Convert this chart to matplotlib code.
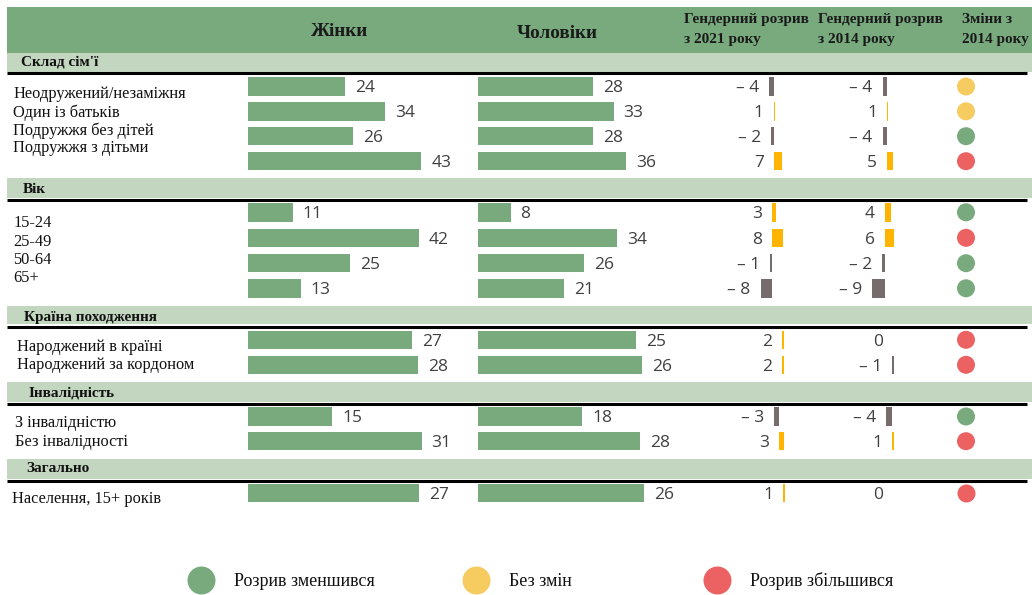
import matplotlib.pyplot as plt
from matplotlib.patches import Rectangle

W, H = 1032, 595

# ---- дані ----
sections = ["Склад сім'ї", "Вік", "Країна походження", "Інвалідність", "Загально"]
row_labels = [
    ["Неодружений/незаміжня", "Один із батьків", "Подружжя без дітей", "Подружжя з дітьми"],
    ["15-24", "25-49", "50-64", "65+"],
    ["Народжений в країні", "Народжений за кордоном"],
    ["З інвалідністю", "Без інвалідності"],
    ["Населення, 15+ років"],
]
women = [[24, 34, 26, 43], [11, 42, 25, 13], [27, 28], [15, 31], [27]]
men = [[28, 33, 28, 36], [8, 34, 26, 21], [25, 26], [18, 28], [26]]
gap_2021 = [[-4, 1, -2, 7], [3, 8, -1, -8], [2, 2], [-3, 3], [1]]
gap_2014 = [[-4, 1, -4, 5], [4, 6, -2, -9], [0, -1], [-4, 1], [0]]
change = [["same", "same", "down", "up"],
          ["down", "up", "down", "down"],
          ["up", "up"],
          ["down", "up"],
          ["up"]]

col_headers = ["Жінки", "Чоловіки", "Гендерний розрив\nз 2021 року",
               "Гендерний розрив\nз 2014 року", "Зміни з\n2014 року"]
legend_keys = ["down", "same", "up"]
legend_labels = ["Розрив зменшився", "Без змін", "Розрив збільшився"]

# ---- оформлення ----
GREEN = '#78AA7E'
LIGHT = '#C3D6C0'
ORANGE = '#FFB400'
GREY = '#766C6C'
TXT = '#404040'
status_colors = {'down': '#78AA7E', 'same': '#F6CB5F', 'up': '#EC6262'}
SERIF = ['Liberation Serif', 'DejaVu Serif']
SANS = ['Open Sans', 'DejaVu Sans']

# розмітка в пікселях (y вниз)
band_y = [(52.7, 71.5), (178.3, 198.0), (306.0, 324.0), (382.0, 402.0), (458.5, 478.5)]
rule_y = [73.3, 200.0, 326.5, 404.0, 480.5]
title_pos = [(20.7, 65.7), (22.7, 193.3), (24.0, 320.7), (28.3, 396.7), (26.0, 472.3)]
row_y = [[86.5, 111.3, 136.2, 161.2], [212.3, 237.8, 263.2, 288.3],
         [339.8, 364.8], [416.5, 441.2], [492.8]]
label_x = [13.3, 13.3, 17.3, 15.0, 11.7]
label_base = [[97.7, 116.7, 135.0, 151.7], [227.3, 245.7, 264.0, 281.7],
              [351.0, 369.3], [426.7, 445.7], [502.7]]
BAR_H = 18.5

# масштаб (пікселів на одиницю) для кожного блоку
women_ppu = [4.03, 4.07, 6.07, 5.6, 6.33]
men_ppu = [4.12, 4.1, 6.33, 5.8, 6.4]
gap21_zero = [773.7, 771.8, 782.3, 779.0, 783.3]
gap21_ppu = [1.15, 1.4, 0.6, 1.6, 1.7]
gap14_zero = [887.0, 885.0, 893.5, 892.2, 893.0]
gap14_ppu = [1.1, 1.45, 1.6, 1.5, 1.5]


def column_axes(fig, left, width):
    a = fig.add_axes([left / W, 0, width / W, 1])
    a.set_ylim(H, 0)
    a.set_facecolor('none')
    a.set_axis_off()
    return a


def fmt_gap(v):
    return f'\u2013 {abs(v)}' if v < 0 else f'{v}'


fig = plt.figure(figsize=(W / 100, H / 100), dpi=100)
ax = fig.add_axes([0, 0, 1, 1])
ax.set_xlim(0, W)
ax.set_ylim(H, 0)
ax.set_axis_off()

# шапка
ax.add_patch(Rectangle((7.3, 6.7), W - 7.3, 46.0, color=GREEN, lw=0))
ax.text(339.7, 36.0, col_headers[0], ha='center', va='baseline',
        family=SERIF, fontweight='bold', fontsize=13.8, color='#1a1a1a')
ax.text(557.0, 37.5, col_headers[1], ha='center', va='baseline',
        family=SERIF, fontweight='bold', fontsize=13.8, color='#1a1a1a')
for hx, head in zip([683.5, 818.5, 961.7], col_headers[2:]):
    for ly, line in zip([23.0, 43.5], head.split('\n')):
        ax.text(hx, ly, line, ha='left', va='baseline', family=SERIF,
                fontweight='bold', fontsize=11, color='#1a1a1a')

for s, title in enumerate(sections):
    y0, y1 = band_y[s]
    ax.add_patch(Rectangle((7.3, y0), W - 7.3, y1 - y0, color=LIGHT, lw=0))
    ax.plot([7.3, 1027], [rule_y[s]] * 2, color='black', lw=2.2, solid_capstyle='butt')
    ax.text(title_pos[s][0], title_pos[s][1], title, ha='left', va='baseline',
            family=SERIF, fontweight='bold', fontsize=11, color='#111111')

    for lab, ly in zip(row_labels[s], label_base[s]):
        ax.text(label_x[s], ly, lab, ha='left', va='baseline', family=SERIF,
                fontsize=11.8, color='#111111')

    # жінки / чоловіки
    for left, vals, ppu in [(248, women[s], women_ppu[s]), (477.7, men[s], men_ppu[s])]:
        a = column_axes(fig, left, 200)
        a.set_xlim(0, 200 / ppu)
        a.barh(row_y[s], vals, height=BAR_H, color=GREEN)
        for v, y in zip(vals, row_y[s]):
            a.annotate(f'{v}', (v, y), xytext=(10, -2), textcoords='offset pixels',
                       ha='left', va='center', family=SANS, fontsize=12.5, color=TXT)

    # гендерні розриви
    for vals, zero, ppu in [(gap_2021[s], gap21_zero[s], gap21_ppu[s]),
                            (gap_2014[s], gap14_zero[s], gap14_ppu[s])]:
        a = column_axes(fig, zero - 40, 80)
        a.set_xlim(-40 / ppu, 40 / ppu)
        colors = [ORANGE if v > 0 else GREY for v in vals]
        a.barh(row_y[s], vals, height=BAR_H, color=colors)
        for v, y in zip(vals, row_y[s]):
            a.annotate(fmt_gap(v), (min(v, 0), y), xytext=(-10, -2),
                       textcoords='offset pixels', ha='right', va='center',
                       family=SANS, fontsize=12.5, color=TXT)

    # індикатори змін
    ax.scatter([966] * len(row_y[s]), row_y[s], s=168,
               c=[status_colors[c] for c in change[s]], linewidths=0, zorder=3)

# легенда
for lx, key, lab in zip([201, 476, 717], legend_keys, legend_labels):
    ax.scatter([lx], [580], s=406, c=status_colors[key], linewidths=0)
    ax.text(lx + 33, 581, lab, ha='left', va='center', family=SERIF,
            fontsize=13, color='#111111')

fig.savefig('out.png', dpi=100)
plt.close(fig)
